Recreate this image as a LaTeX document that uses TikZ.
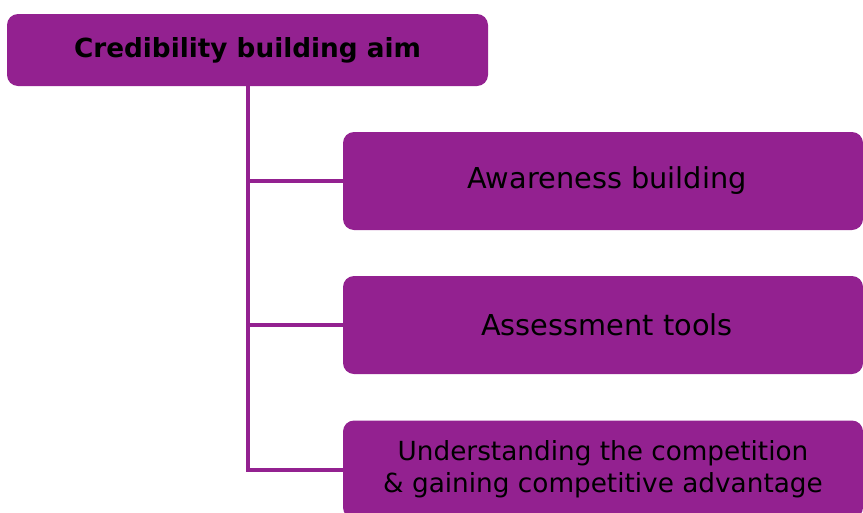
\documentclass[tikz,border=0pt]{standalone}
\usepackage{xcolor}
\usepackage{fontspec}
\setmainfont{DejaVu Sans}
\definecolor{aimpurple}{RGB}{147,33,144}
\tikzset{
  aimbox/.style={fill=aimpurple,draw=none,rounded corners=11pt,text=black,align=center,inner sep=0pt},
  linkline/.style={draw=aimpurple,line width=4pt}
}
\begin{document}
\begin{tikzpicture}[x=1pt,y=1pt]
            \useasboundingbox (0,0) rectangle (863,-512);
            \begin{scope}
            \clip (0,0) rectangle (863,-512);
            \node[aimbox,minimum width=481pt,minimum height=72pt,font=\fontsize{26.3}{30}\selectfont\bfseries] (aim) at (247.5,-50) {Credibility building aim};
            \node[aimbox,minimum width=520pt,minimum height=98pt,font=\fontsize{28.8}{34}\selectfont] (aware) at (603,-181) {\hspace{8pt}Awareness building};
            \node[aimbox,minimum width=520pt,minimum height=98pt,font=\fontsize{28.8}{34}\selectfont] (tools) at (603,-325) {\hspace{8pt}Assessment tools};
            \node[aimbox,minimum width=520pt,minimum height=98pt,font=\fontsize{26.3}{32}\selectfont] (compete) at (603,-469.5) {Understanding the competition\\ \& gaining competitive advantage};
            \end{scope}
            \draw [linkline] (aim.south) |- (aware.west);
            \draw [linkline] (aim.south) |- (tools.west);
            \draw [linkline] (aim.south) |- (compete.west);
        \end{tikzpicture}
\end{document}
